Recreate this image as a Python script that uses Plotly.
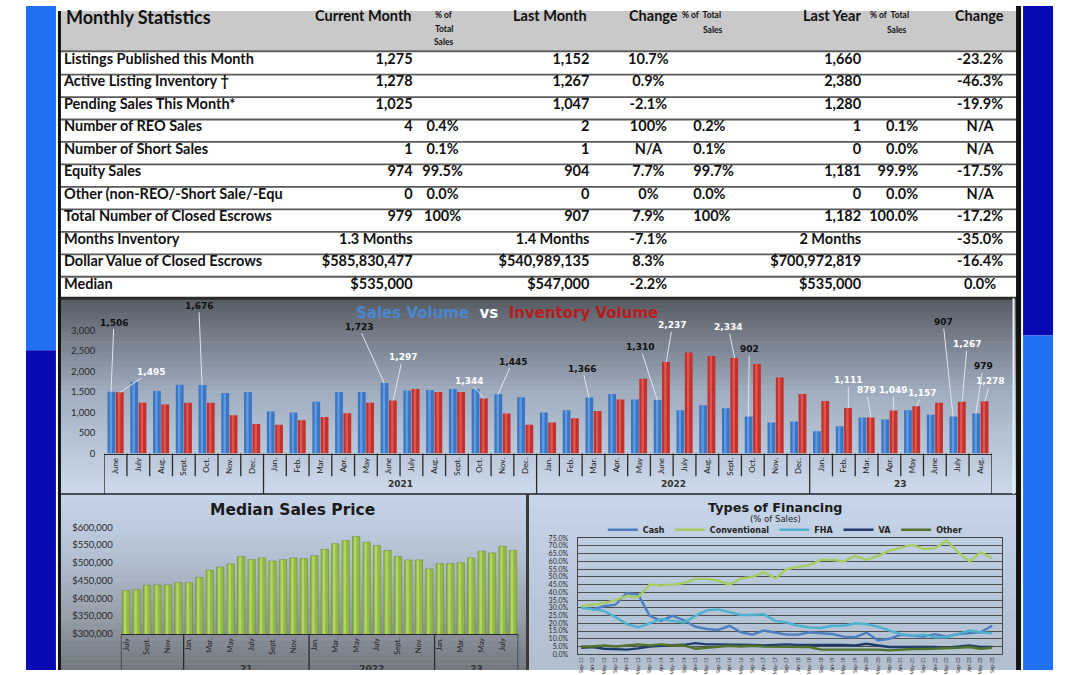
import plotly.graph_objects as go

W, H = 1080, 675

# ---------------- DATA ----------------
row_labels = ["Listings Published this Month", "Active Listing Inventory \u2020", "Pending Sales This Month*",
              "Number of REO Sales", "Number of Short Sales", "Equity Sales",
              "Other (non-REO/-Short Sale/-Equ", "Total Number of Closed Escrows", "Months Inventory",
              "Dollar Value of Closed Escrows", "Median"]
current_month = ["1,275", "1,278", "1,025", "4", "1", "974", "0", "979", "1.3 Months", "$585,830,477", "$535,000"]
current_pct = ["", "", "", "0.4%", "0.1%", "99.5%", "0.0%", "100%", "", "", ""]
last_month = ["1,152", "1,267", "1,047", "2", "1", "904", "0", "907", "1.4 Months", "$540,989,135", "$547,000"]
month_change = ["10.7%", "0.9%", "-2.1%", "100%", "N/A", "7.7%", "0%", "7.9%", "-7.1%", "8.3%", "-2.2%"]
last_month_pct = ["", "", "", "0.2%", "0.1%", "99.7%", "0.0%", "100%", "", "", ""]
last_year = ["1,660", "2,380", "1,280", "1", "0", "1,181", "0", "1,182", "2 Months", "$700,972,819", "$535,000"]
last_year_pct = ["", "", "", "0.1%", "0.0%", "99.9%", "0.0%", "100.0%", "", "", ""]
year_change = ["-23.2%", "-46.3%", "-19.9%", "N/A", "N/A", "-17.5%", "N/A", "-17.2%", "-35.0%", "-16.4%", "0.0%"]

sales_months = ["June", "July", "Aug.", "Sept.", "Oct.", "Nov.", "Dec.",
                "Jan.", "Feb.", "Mar.", "Apr.", "May", "June", "July", "Aug.", "Sept.", "Oct.", "Nov.", "Dec.",
                "Jan.", "Feb.", "Mar.", "Apr.", "May", "June", "July", "Aug.", "Sept.", "Oct.", "Nov.", "Dec.",
                "Jan.", "Feb.", "Mar.", "Apr.", "May", "June", "July", "Aug."]
sales_year_groups = [("", 7), ("2021", 12), ("2022", 12), ("23", 8)]
sales_volume = [1506, 1745, 1525, 1680, 1676, 1480, 1500,
                1025, 1000, 1265, 1505, 1505, 1723, 1535, 1545, 1575, 1575, 1445, 1375,
                1000, 1055, 1366, 1455, 1320, 1310, 1055, 1182, 1105, 902, 760, 785,
                545, 665, 880, 830, 1055, 945, 907, 979]
inventory_volume = [1495, 1240, 1200, 1240, 1240, 935, 720,
                    705, 815, 895, 985, 1240, 1297, 1575, 1505, 1505, 1344, 975, 705,
                    760, 865, 1040, 1320, 1825, 2237, 2465, 2380, 2334, 2185, 1855, 1455,
                    1280, 1111, 879, 1049, 1157, 1240, 1267, 1278]
sales_ticks = [0, 500, 1000, 1500, 2000, 2500, 3000]

median_months = ["July", "Aug.", "Sept.", "Oct.", "Nov.", "Dec.",
                 "Jan.", "Feb.", "Mar.", "Apr.", "May", "June", "July", "Aug.", "Sept.", "Oct.", "Nov.", "Dec.",
                 "Jan.", "Feb.", "Mar.", "Apr.", "May", "June", "July", "Aug.", "Sept.", "Oct.", "Nov.", "Dec.",
                 "Jan.", "Feb.", "Mar.", "Apr.", "May", "June", "July", "Aug."]
median_year_groups = [("", 6), ("21", 12), ("2022", 12), ("23", 8)]
median_price = [422000, 424000, 437000, 438000, 438000, 444000,
                444000, 459000, 479000, 488000, 497000, 518000, 509000, 514000, 505000, 509000, 514000, 512000,
                520000, 538000, 554000, 563000, 574000, 558000, 549000, 535000, 518000, 508000, 508000, 483000,
                498000, 498000, 500000, 514000, 533000, 528000, 547000, 535000]

fin_labels = ["Sep-11", "Jan-12", "May-12", "Sep-12", "Jan-13", "May-13", "Sep-13", "Jan-14", "May-14",
              "Sep-14", "Jan-15", "May-15", "Sep-15", "Jan-16", "May-16", "Sep-16", "Jan-17", "May-17",
              "Sep-17", "Jan-18", "May-18", "Sep-18", "Jan-19", "May-19", "Sep-19", "Jan-20", "May-20",
              "Sep-20", "Jan-21", "May-21", "Sep-21", "Jan-22", "May-22", "Sep-22", "Jan-23", "May-23", "Sep-23"]
fin_cash = [31, 29, 31, 32, 39.6, 38.5, 24.8, 21.6, 24.8, 22, 17.8, 16.3, 15.7, 18.4, 14.2, 12.7, 15.3, 14.2,
            12.7, 12.7, 14.2, 13.6, 13.1, 11.4, 11, 14, 8.9, 10, 12.7, 12, 11.4, 13, 11.4, 13, 13.5, 14.2, 18.4]
fin_conventional = [31, 32, 33, 35, 37.5, 37, 45, 44.5, 45, 46, 48.7, 48.7, 47.5, 45, 49, 50, 53, 49, 55, 56.5,
                    57.6, 61, 61, 60, 63.5, 61, 63.5, 67, 69, 70.8, 68, 68.6, 73.5, 66, 60, 66, 62]
fin_fha = [30, 29, 28, 24, 19.5, 17.4, 20, 22.7, 21.6, 20.5, 24.8, 28.4, 29, 27, 25.4, 25.4, 25.8, 21.6, 20.5,
           18.4, 17.4, 17, 18.4, 18.4, 20, 19.5, 17.8, 15.3, 13.1, 12, 12.7, 11, 11, 13, 15.3, 14.2, 13.6]
fin_va = [4.2, 4.7, 3.6, 3.4, 3, 3.8, 5, 5.5, 6, 6.1, 7.2, 6.4, 6.4, 6.4, 6, 6, 5.7, 6, 6.4, 6, 6, 6.4, 6.1, 6,
          5.7, 6.8, 5.7, 4.7, 4.7, 4.7, 5, 4.7, 4.2, 5, 5.7, 4.7, 4.7]
fin_other = [5, 5, 5.7, 5, 5.7, 6.4, 5.7, 6.4, 5.7, 5.7, 3.6, 4.2, 4.7, 5.5, 5, 5.5, 5, 5, 4.7, 5, 4.7, 3, 3, 3,
             3.4, 3.4, 3, 2.5, 3, 3.4, 3.4, 3.6, 3.8, 4.2, 4.7, 3.6, 4.2]

# ---------------- HELPERS ----------------
def px(x):
    return x / W


def py(y):
    return 1 - y / H


shapes = []
annotations = []


def rect(x0, y0, x1, y1, color, layer="below"):
    shapes.append(dict(type="rect", xref="paper", yref="paper", x0=px(x0), x1=px(x1), y0=py(y1), y1=py(y0),
                       fillcolor=color, line=dict(width=0), layer=layer))


def hline(x0, x1, y, color, width, layer="below"):
    shapes.append(dict(type="line", xref="paper", yref="paper", x0=px(x0), x1=px(x1), y0=py(y), y1=py(y),
                       line=dict(color=color, width=width), layer=layer))


def vline(x, y0, y1, color, width, layer="below"):
    shapes.append(dict(type="line", xref="paper", yref="paper", x0=px(x), x1=px(x), y0=py(y0), y1=py(y1),
                       line=dict(color=color, width=width), layer=layer))


def hex2rgb(h):
    h = h.lstrip("#")
    return [int(h[i:i + 2], 16) for i in (0, 2, 4)]


def color_at(stops, t):
    for (t0, c0), (t1, c1) in zip(stops[:-1], stops[1:]):
        if t0 <= t <= t1:
            f = (t - t0) / (t1 - t0) if t1 > t0 else 0
            a, b = hex2rgb(c0), hex2rgb(c1)
            return "rgb(%d,%d,%d)" % tuple(round(a[i] + (b[i] - a[i]) * f) for i in range(3))
    return stops[-1][1]


def gradient(x0, y0, x1, y1, stops, n):
    for k in range(n):
        ya = y0 + (y1 - y0) * k / n
        yb = y0 + (y1 - y0) * (k + 1) / n + 0.6
        rect(x0, ya, x1, min(yb, y1), color_at(stops, (k + 0.5) / n))


def text(x, y, s, size, color="#111", xanchor="center", family="Lato", bold=True):
    annotations.append(dict(xref="paper", yref="paper", x=px(x), y=py(y), text=("<b>%s</b>" % s) if bold else s,
                            showarrow=False, xanchor=xanchor, yanchor="middle",
                            font=dict(size=size, color=color, family=family)))


FONT_T = "Lato"

# ---------------- PAGE DECOR ----------------
rect(25, 0, 55, 350, "#1f70f2")
rect(25, 350, 55, 675, "#0a0ab2")
rect(1023, 0, 1053, 335, "#0a0ab4")
rect(1023, 335, 1053, 675, "#1f70f2")

# table header
rect(57, 5, 1017, 45, "#c9c9c9")
row_y = [58.3 + 22.84 * i for i in range(len(row_labels))]
hline(57, 1017, 46, "#5a5a5a", 1.8)
for yv in row_y[:-1]:
    hline(57, 1017, yv + 11.4, "#5a5a5a", 1.8)

# chart panel backgrounds
gradient(57, 297, 1017, 496, [(0, "#575c63"), (0.5, "#a2b0c2"), (1, "#ccdaec")], 40)
gradient(57, 496, 527, 675, [(0, "#c6d5e9"), (0.35, "#b3c1d3"), (0.7, "#969ea8"), (1, "#72777f")], 30)
gradient(527, 496, 1017, 675, [(0, "#c6d5e9"), (1, "#b0bece")], 12)

# borders
hline(57, 1017, 297, "#2b2b2b", 3)
hline(57, 1017, 496, "#4a4f55", 2)
vline(527, 496, 675, "#3a3a3a", 3)
vline(1013.5, 297, 496, "#f0f0f0", 2)
vline(58.5, 5, 675, "#111111", 3, layer="above")
vline(1018.5, 0, 675, "#111111", 5, layer="above")

# ---------------- TABLE HEADER TEXT ----------------
text(63, 11, "Monthly Statistics", 18, xanchor="left")
text(412, 9.5, "Current Month", 14.5, xanchor="right")
text(443, 9, "% of", 8.5)
text(443, 23, "Total", 8.5)
text(443, 37, "Sales", 8.5)
text(589, 9.5, "Last Month", 14.5, xanchor="right")
text(627, 9.5, "Change", 14.5, xanchor="left")
text(680, 9, "% of&nbsp;&nbsp;Total", 8.5, xanchor="left")
text(713, 24, "Sales", 8.5)
text(863, 9.5, "Last Year", 14.5, xanchor="right")
text(868, 9, "% of&nbsp;&nbsp;Total", 8.5, xanchor="left")
text(897, 24, "Sales", 8.5)
text(979, 9.5, "Change", 14.5)

fig = go.Figure()

# table cells on a pixel-space axis
table_cols = [
    (row_labels, 63, "middle right"),
    (current_month, 412, "middle left"),
    (current_pct, 442, "middle center"),
    (last_month, 589, "middle left"),
    (month_change, 648, "middle center"),
    (last_month_pct, 693, "middle right"),
    (last_year, 861, "middle left"),
    (last_year_pct, 918, "middle left"),
    (year_change, 980, "middle center"),
]
cell_y = [v - 3 for v in row_y]
for vals, ax_x, pos in table_cols:
    fig.add_trace(go.Scatter(x=[ax_x] * len(vals), y=cell_y, mode="text", text=vals, textposition=pos,
                             textfont=dict(family=FONT_T, size=14.5, color="#111", weight="bold"),
                             xaxis="x4", yaxis="y4", hoverinfo="skip", showlegend=False, cliponaxis=False))

# ---------------- SALES VS INVENTORY ----------------
sales_years = []
for name, n in sales_year_groups:
    sales_years += [name or "2020"] * n
sales_cats = ["%s %s" % (m, y) for m, y in zip(sales_months, sales_years)]

BARGAP, GROUPGAP = 0.27, 0.06
slot = (1 - BARGAP) / 2
bar_w = slot * (1 - GROUPGAP)
fig.add_trace(go.Bar(x=sales_cats, y=sales_volume, name="Sales Volume", marker=dict(color="#3a76c4", line=dict(width=0)),
                     xaxis="x", yaxis="y", showlegend=False, hoverinfo="skip"))
fig.add_trace(go.Bar(x=sales_cats, y=inventory_volume, name="Inventory Volume",
                     marker=dict(color="#c4302c", line=dict(width=0)),
                     xaxis="x", yaxis="y", showlegend=False, hoverinfo="skip"))
# cylinder highlights
for vals, centre, col in [(sales_volume, -slot / 2, "rgba(150,200,255,0.45)"),
                          (inventory_volume, slot / 2, "rgba(255,150,140,0.40)")]:
    fig.add_trace(go.Bar(x=sales_cats, y=vals, width=bar_w * 0.3, offset=centre - bar_w * 0.22,
                         marker=dict(color=col, line=dict(width=0)), xaxis="x", yaxis="y",
                         showlegend=False, hoverinfo="skip"))

SX0, SX1, SY0, SY1 = 103.3, 991.7, 455, 330
SCW = (SX1 - SX0) / len(sales_cats)

# separators
bounds_long = [-0.5]
acc = -0.5
for name, n in sales_year_groups:
    acc += n
    bounds_long.append(acc)
for b in range(len(sales_cats) + 1):
    xb = b - 0.5
    long = xb in bounds_long
    shapes.append(dict(type="line", xref="x", yref="paper", x0=xb, x1=xb, y0=py(SY0), y1=py(496 if long else 478),
                       line=dict(color="#2a2a2a", width=1.3), layer="above"))
start = 0
for name, n in sales_year_groups:
    if name:
        annotations.append(dict(xref="x", yref="paper", x=start + (n - 1) / 2, y=py(493.5), text="<b>%s</b>" % name,
                                showarrow=False, font=dict(size=9, color="#333", family="DejaVu Sans")))
    start += n

# value labels with leader lines
sales_label_pos = [(0, 113, 323), (4, 198, 306), (12, 358, 327), (17, 512, 362), (21, 582, 369),
                   (24, 640, 348), (28, 749, 350), (37, 943, 323), (38, 983, 367)]
inv_label_pos = [(0, 150, 372), (12, 402, 358), (16, 468, 381), (24, 672, 325), (27, 728, 327),
                 (32, 848, 381), (33, 866, 391), (34, 893, 391), (35, 922, 394), (37, 967, 345), (38, 990, 382)]
for series, positions, off, col in [(sales_volume, sales_label_pos, -0.2, "#111111"),
                                    (inventory_volume, inv_label_pos, 0.2, "#ffffff")]:
    for idx, tx, ty in positions:
        v = series[idx]
        bx = SX0 + (idx + 0.5 + off) * SCW
        by = SY0 - v / 3000 * (SY0 - SY1)
        annotations.append(dict(xref="x", yref="y", x=idx + off, y=v, text="<b>%s</b>" % format(v, ","),
                                showarrow=True, arrowhead=0, arrowwidth=1, arrowcolor="#dfe5ec",
                                ax=tx - bx, ay=ty - by, standoff=0,
                                font=dict(size=9, color=col, family="DejaVu Sans")))

annotations.append(dict(xref="paper", yref="paper", x=px(506), y=py(312), showarrow=False,
                        text="<b><span style='color:#4a86d0'>Sales Volume</span>&nbsp;&nbsp;"
                             "<span style='color:#ffffff'>vs</span>&nbsp;&nbsp;"
                             "<span style='color:#b81d1d'>Inventory Volume</span></b>",
                        font=dict(size=15, family="DejaVu Sans")))

# ---------------- MEDIAN SALES PRICE ----------------
median_years = []
for name, n in median_year_groups:
    median_years += [name or "2020"] * n
median_cats = ["%s %s" % (m, y) for m, y in zip(median_months, median_years)]
fig.add_trace(go.Bar(x=median_cats, y=median_price, name="Median Sales Price",
                     marker=dict(color="#91bb45", line=dict(color="#6c8f2c", width=0.6)), width=0.7,
                     xaxis="x2", yaxis="y2", showlegend=False, hoverinfo="skip"))
fig.add_trace(go.Bar(x=median_cats, y=median_price, width=0.22, offset=-0.2,
                     marker=dict(color="rgba(225,245,150,0.45)", line=dict(width=0)),
                     xaxis="x2", yaxis="y2", showlegend=False, hoverinfo="skip"))
MX0, MX1 = 120, 517.7
MCW = (MX1 - MX0) / len(median_cats)
acc = -0.5
for name, n in [("", 0)] + median_year_groups:
    acc += n
    shapes.append(dict(type="line", xref="x2", yref="paper", x0=acc, x1=acc, y0=py(638.3), y1=py(675),
                       line=dict(color="#2a2a2a", width=1.3), layer="above"))
# year labels, clipped by the bottom edge as in the original
yl_x, yl_t = [], []
start = 0
for name, n in median_year_groups:
    if name:
        yl_x.append(MX0 + (start + n / 2) * MCW)
        yl_t.append("<b>%s</b>" % name)
    start += n
fig.add_trace(go.Scatter(x=yl_x, y=[674.5] * len(yl_x), mode="text", text=yl_t, textposition="middle center",
                         textfont=dict(size=9, color="#333", family="DejaVu Sans"), xaxis="x4", yaxis="y4",
                         hoverinfo="skip", showlegend=False, cliponaxis=True))
text(292, 512, "Median Sales Price", 15.5, color="#1a1a1a", family="DejaVu Sans")

# ---------------- TYPES OF FINANCING ----------------
fin_series = [("Cash", fin_cash, "#4d7fc0"), ("Conventional", fin_conventional, "#a6cc62"),
              ("FHA", fin_fha, "#4fb0d0"), ("VA", fin_va, "#213b6c"), ("Other", fin_other, "#52722a")]
for name, vals, col in fin_series:
    fig.add_trace(go.Scatter(x=fin_labels, y=vals, mode="lines", name=name, line=dict(color=col, width=2.4),
                             xaxis="x3", yaxis="y3", hoverinfo="skip"))
text(775, 510, "Types of Financing", 12.8, color="#1a1a1a", family="DejaVu Sans")
text(775, 521.5, "(% of Sales)", 8.5, color="#222", family="DejaVu Sans", bold=False)

fig.update_layout(
    width=W, height=H, autosize=False,
    margin=dict(l=0, r=0, t=0, b=0, pad=0),
    paper_bgcolor="white", plot_bgcolor="rgba(0,0,0,0)",
    barmode="group", bargap=BARGAP, bargroupgap=GROUPGAP,
    shapes=shapes, annotations=annotations,
    showlegend=True,
    legend=dict(orientation="h", x=px(785), y=py(532.5), xanchor="center", yanchor="middle",
                bgcolor="rgba(0,0,0,0)", font=dict(size=8, color="#222", family="DejaVu Sans", weight="bold"),
                itemwidth=30, tracegroupgap=0),
    xaxis=dict(domain=[px(SX0), px(SX1)], anchor="y", type="category", range=[-0.5, len(sales_cats) - 0.5],
               tickmode="array", tickvals=sales_cats, ticktext=sales_months, tickangle=-90,
               tickfont=dict(size=8, color="#222", family="Lato"), showline=True, linecolor="#2a2a2a",
               linewidth=1.3, ticks="", showgrid=False, zeroline=False),
    yaxis=dict(domain=[py(SY0), py(SY1)], anchor="x", range=[0, 3000], tickmode="array", tickvals=sales_ticks,
               tickformat=",d", tickfont=dict(size=9.5, color="#2a2a2a", family="Lato"), showgrid=False,
               zeroline=False, ticks="", showline=False, ticklabelstandoff=8),
    xaxis2=dict(domain=[px(MX0), px(MX1)], anchor="y2", type="category", range=[-0.5, len(median_cats) - 0.5],
                tickmode="array", tickvals=median_cats[::2], ticktext=median_months[::2], tickangle=-90,
                tickfont=dict(size=7.5, color="#222", family="Lato"), showline=True, linecolor="#2a2a2a",
                linewidth=1.3, ticks="", showgrid=False, zeroline=False),
    yaxis2=dict(domain=[py(638.3), py(530)], anchor="x2", range=[300000, 600000], dtick=50000, tickprefix="$",
                tickformat=",d", tickfont=dict(size=9.5, color="#2a2a2a", family="Lato"), showgrid=False,
                zeroline=False, ticks="", showline=False, ticklabelstandoff=7),
    xaxis3=dict(domain=[px(578), px(1002)], anchor="y3", type="category", range=[-0.24, 36.87],
                tickangle=-90, tickfont=dict(size=5, color="#333", family="Lato"), showline=True, mirror=True,
                linecolor="#444", linewidth=1, ticks="", showgrid=False, zeroline=False),
    yaxis3=dict(domain=[py(659), py(541)], anchor="x3", range=[0, 75], dtick=5, tickformat=".1f",
                ticksuffix="%", tickfont=dict(size=7, color="#2a2a2a", family="Lato"), showgrid=True,
                gridcolor="#4f4f4f", gridwidth=1, showline=True, mirror=True, linecolor="#444", linewidth=1,
                ticks="", zeroline=False, ticklabelstandoff=8),
    xaxis4=dict(domain=[0, 1], anchor="y4", range=[0, W], visible=False, fixedrange=True),
    yaxis4=dict(domain=[0, 1], anchor="x4", range=[H, 0], visible=False, fixedrange=True),
)

fig.write_html("out.html", config={"displayModeBar": False},
               post_script="document.body.style.margin='0px';")
